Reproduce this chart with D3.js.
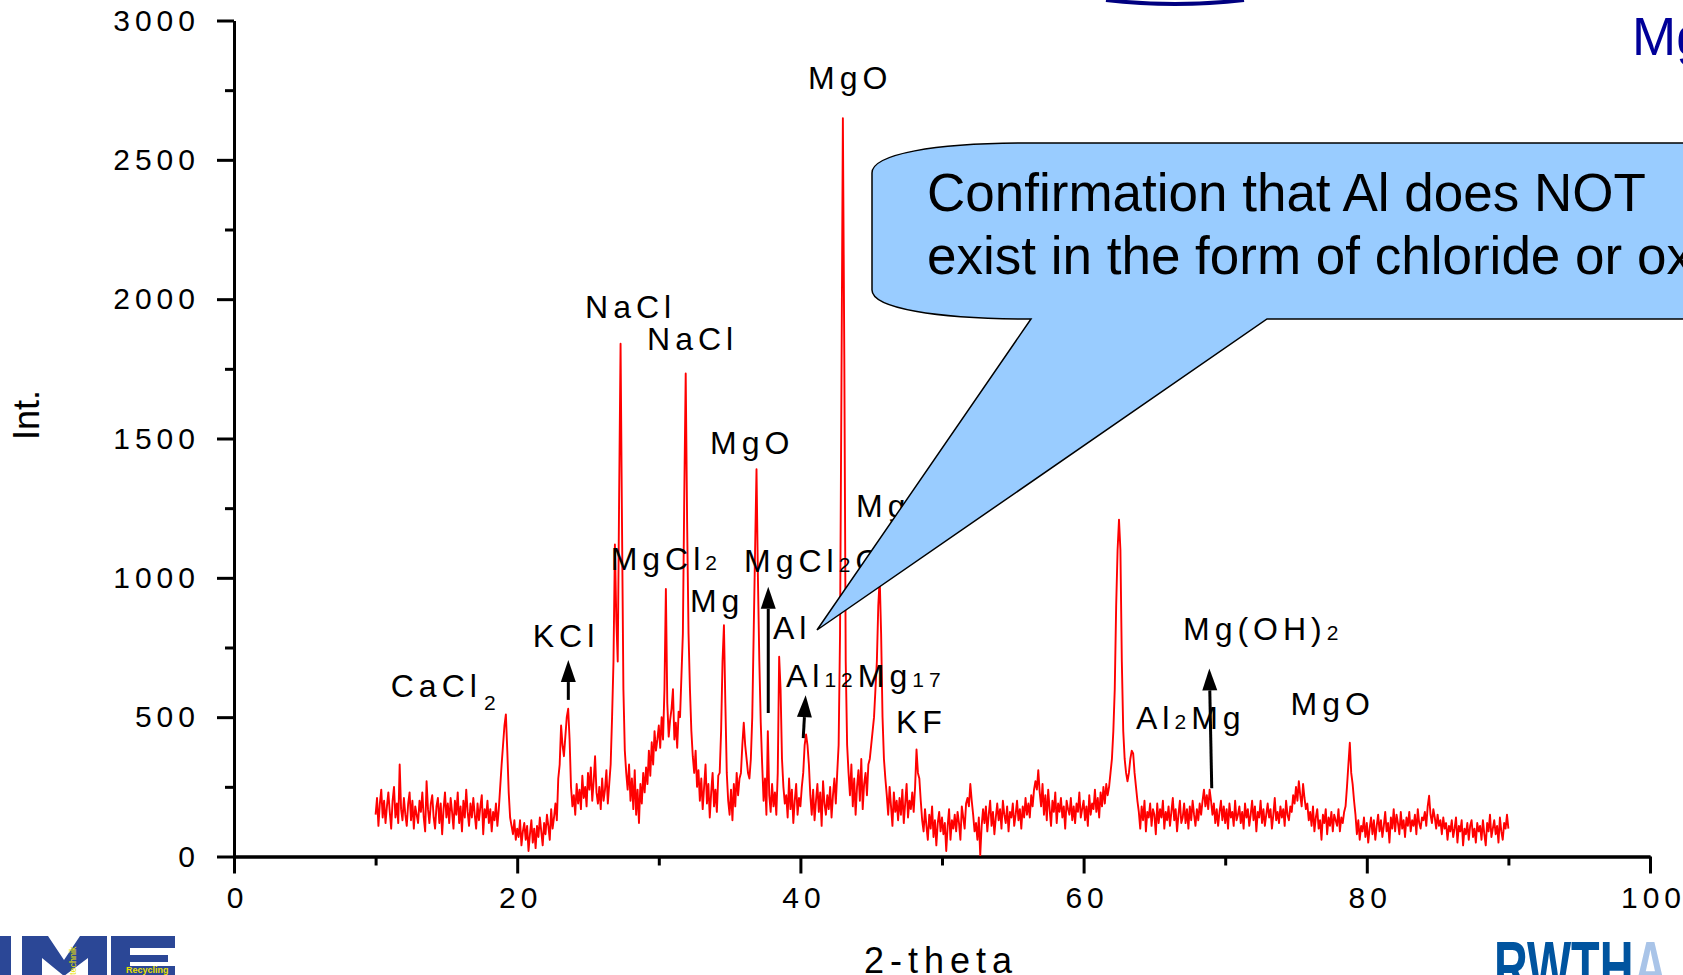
<!DOCTYPE html>
<html>
<head>
<meta charset="utf-8">
<script src="https://cdn.jsdelivr.net/npm/d3@7"></script>
<style>
  body { margin: 0; background: #fff; overflow: hidden; }
  svg { display: block; font-family: "Liberation Sans", Arial, sans-serif; }
</style>
</head>
<body>
<div id="viz"></div>
<script>
const w = 1683;
const h = 975;

// XRD scan, 2-theta 10..90 in 0.1 steps, one row per degree
const thetaStart = 10;
const thetaStep = 0.1;
const intensityRows = [
  [150,210,110,190,240,140,200,120,180,230], // 10
  [160,100,200,250,140,190,120,330,170,130],
  [210,150,110,190,230,130,200,100,180,150],
  [120,200,160,230,140,90,270,170,120,190],
  [220,140,100,180,210,120,190,80,170,230],
  [140,190,120,210,160,100,200,150,230,120], // 15
  [180,90,200,140,240,160,110,190,140,210],
  [150,100,190,130,180,220,80,170,140,200],
  [120,170,90,160,130,190,110,170,250,330],
  [400,470,510,380,230,140,110,80,130,60],
  [100,70,130,40,90,120,60,110,20,80],        // 20
  [130,50,100,30,110,70,140,90,40,120],
  [80,150,110,60,170,100,140,190,130,280],
  [330,470,400,360,430,500,530,420,250,180],
  [220,150,260,190,240,170,290,210,250,180],
  [300,240,320,200,270,360,230,190,250,170],  // 25
  [280,200,240,310,190,260,330,500,700,1120],
  [850,700,1300,1840,1200,600,380,300,240,330],
  [200,280,170,310,150,240,120,260,190,300],
  [230,320,260,380,290,410,330,450,380,420],
  [470,390,500,420,600,960,550,430,490,530],  // 30
  [600,420,480,390,520,500,650,800,1300,1733],
  [1200,800,600,450,360,300,380,250,310,200],
  [280,170,250,330,190,260,140,230,300,180],
  [240,160,290,300,450,700,830,550,300,200],
  [150,240,130,260,180,300,220,280,300,400],  // 35
  [480,400,350,300,280,350,500,800,1100,1390],
  [1000,700,480,330,200,280,150,450,220,160],
  [260,180,230,150,300,717,600,350,250,190],
  [220,140,280,170,240,120,200,260,150,210],
  [180,250,300,400,438,400,330,220,150,240],  // 40
  [130,200,260,160,230,110,270,190,150,220],
  [170,250,140,220,280,190,300,400,800,1700],
  [2649,1800,700,400,300,220,330,180,280,150],
  [250,310,200,350,170,260,300,220,330,350],
  [400,450,500,600,700,900,1000,800,500,350], // 45
  [280,220,150,250,180,110,230,160,200,130],
  [210,150,240,120,190,260,140,200,170,230],
  [160,250,384,300,280,200,130,90,170,110],
  [60,150,100,180,70,130,40,120,160,90],
  [140,80,120,20,110,170,60,130,100,150],     // 50
  [90,160,120,60,180,140,100,190,210,180],
  [260,200,150,90,120,60,140,5,110,170],
  [120,180,90,150,200,110,160,80,140,190],
  [130,170,100,200,150,120,180,90,160,140],
  [190,110,150,200,130,170,100,180,140,210],  // 55
  [150,190,140,220,180,240,270,240,310,230],
  [180,260,150,220,130,240,170,110,200,160],
  [230,120,190,160,210,140,180,100,200,170],
  [150,210,130,180,120,190,160,230,140,170],
  [200,130,180,110,220,150,190,170,240,160],  // 60
  [210,140,230,180,250,190,260,220,250,300],
  [350,450,600,900,1100,1209,1100,700,450,350],
  [300,270,300,350,380,370,300,250,200,160],
  [100,180,130,200,90,160,140,190,110,170],
  [150,80,190,120,170,140,200,100,160,130],   // 65
  [180,110,160,210,130,170,90,150,200,120],
  [140,190,120,170,100,180,130,200,150,110],
  [170,130,190,150,200,240,180,220,170,240],
  [200,150,190,120,170,110,160,200,130,180],
  [120,170,100,190,140,160,110,200,130,150],  // 70
  [180,120,160,100,190,140,170,110,150,200],
  [130,180,90,160,140,200,120,170,110,150],
  [190,140,170,100,150,210,130,160,120,180],
  [140,170,110,200,150,130,180,160,220,190],
  [250,200,270,220,180,260,210,170,190,130],  // 75
  [160,110,180,90,140,170,100,130,60,150],
  [120,170,80,140,110,160,90,150,130,110],
  [170,90,140,120,160,180,250,330,408,300],
  [260,200,150,80,130,60,110,90,140,70],
  [120,50,100,140,80,130,60,110,150,90],      // 80
  [130,70,110,160,90,120,50,140,100,170],
  [90,150,120,80,160,100,130,70,140,110],
  [160,90,130,110,150,80,170,120,100,140],
  [130,160,110,180,218,150,120,170,140,100],
  [150,110,130,80,140,100,120,60,110,90],     // 85
  [130,70,100,140,50,110,90,130,40,100],
  [80,120,60,110,130,70,100,50,120,90],
  [110,60,130,80,40,120,90,150,70,100],
  [130,80,110,50,140,90,60,120,100,150],
  [100]                                       // 90
];

const xMajor = [0, 20, 40, 60, 80, 100];
const xMinor = [10, 30, 50, 70, 90];
const yMajor = [0, 500, 1000, 1500, 2000, 2500, 3000];
const yMinor = [250, 750, 1250, 1750, 2250, 2750];

// phase labels: text pieces alternate normal / small, placed at (2-theta, Int.)
const peakLabels = [
  { parts: ['MgO'], t: 40.54, i: 2754 },
  { parts: ['NaCl'], t: 24.79, i: 1932 },
  { parts: ['NaCl'], t: 29.17, i: 1817 },
  { parts: ['MgO'], t: 33.62, i: 1444 },
  { parts: ['Mg'], t: 43.93, i: 1218 },
  { parts: ['MgCl', '2'], t: 26.6, i: 1028 },
  { parts: ['MgCl', '2', 'O'], t: 36.02, i: 1022 },
  { parts: ['Mg'], t: 32.2, i: 878 },
  { parts: ['Al'], t: 38.06, i: 780 },
  { parts: ['Al', '12', 'Mg', '17'], t: 38.98, i: 608 },
  { parts: ['KF'], t: 46.75, i: 444 },
  { parts: ['KCl'], t: 21.1, i: 751 },
  { parts: ['CaCl', '2'], t: 11.07, i: 571, lowered: true },
  { parts: ['Mg(OH)', '2'], t: 67.02, i: 777 },
  { parts: ['MgO'], t: 74.62, i: 508 },
  { parts: ['Al', '2', 'Mg'], t: 63.7, i: 456 }
];

// arrows: from (t0,i0) to tip (t1,i1)
const arrows = [
  { t0: 23.61, i0: 562, t1: 23.61, i1: 705 },
  { t0: 37.73, i0: 515, t1: 37.73, i1: 968 },
  { t0: 40.2, i0: 425, t1: 40.37, i1: 579 },
  { t0: 69.05, i0: 245, t1: 68.88, i1: 675 }
];

const calloutLines = ['Confirmation that Al does NOT', 'exist in the form of chloride or oxide'];

const data = intensityRows.flat().map((v, k) => [thetaStart + k * thetaStep, v]);

const svg = d3.select('#viz').append('svg')
    .attr('width', w)
    .attr('height', h)

const x = d3.scaleLinear().domain([0, 100]).range([234, 1650])
const y = d3.scaleLinear().domain([0, 3000]).range([856.5, 20.5])

// axes
const axisStyle = g => {
    g.selectAll('path, line').attr('stroke', '#000').attr('stroke-width', 3)
    g.selectAll('text')
        .attr('font-size', 30)
        .attr('letter-spacing', 5)
        .attr('fill', '#000')
        .attr('font-family', '"Liberation Sans", Arial, sans-serif')
}

svg.append('g')
    .attr('transform', `translate(0,${y(0)})`)
    .call(d3.axisBottom(x).tickValues(xMinor).tickSize(9).tickFormat('').tickSizeOuter(0))
    .call(axisStyle)
svg.append('g')
    .attr('transform', `translate(0,${y(0)})`)
    .call(d3.axisBottom(x).tickValues(xMajor).tickSize(17).tickPadding(13).tickSizeOuter(0).tickFormat(d3.format('d')))
    .call(axisStyle)
    .selectAll('text').attr('dx', 3)

svg.append('g')
    .attr('transform', `translate(${x(0)},0)`)
    .call(d3.axisLeft(y).tickValues(yMinor).tickSize(9).tickFormat('').tickSizeOuter(0))
    .call(axisStyle)
svg.append('g')
    .attr('transform', `translate(${x(0)},0)`)
    .call(d3.axisLeft(y).tickValues(yMajor).tickSize(17).tickPadding(17).tickSizeOuter(0).tickFormat(d3.format('d')))
    .call(axisStyle)

// axis titles
svg.append('text')
    .attr('transform', `translate(39,${415}) rotate(-90)`)
    .attr('text-anchor', 'middle')
    .attr('font-size', 36)
    .text('Int.')

svg.append('text')
    .attr('x', 941)
    .attr('y', 973)
    .attr('text-anchor', 'middle')
    .attr('font-size', 36)
    .attr('letter-spacing', 6)
    .text('2-theta')

// the scan
svg.append('path')
    .datum(data)
    .attr('fill', 'none')
    .attr('stroke', '#ff0000')
    .attr('stroke-width', 1.9)
    .attr('stroke-linejoin', 'round')
    .attr('d', d3.line().x(d => x(d[0])).y(d => y(d[1])))

// labels
const labelGroup = svg.append('g')
    .attr('font-size', 32)
    .attr('letter-spacing', 5)
    .attr('fill', '#000')

peakLabels.forEach(lb => {
    let t = labelGroup.append('text')
        .attr('x', x(lb.t))
        .attr('y', y(lb.i))
    lb.parts.forEach((p, k) => {
        let small = k % 2 === 1
        let s = t.append('tspan').text(p)
        if (small) {
            s.attr('font-size', 21)
            if (lb.lowered) s.attr('dy', 13).attr('dx', 2)
        }
    })
})

// arrows
arrows.forEach(a => {
    let x0 = x(a.t0), y0 = y(a.i0), x1 = x(a.t1), y1 = y(a.i1)
    let ang = Math.atan2(y1 - y0, x1 - x0)
    let len = 22, half = 7.5
    let bx = x1 - len * Math.cos(ang), by = y1 - len * Math.sin(ang)
    svg.append('line')
        .attr('x1', x0).attr('y1', y0)
        .attr('x2', bx).attr('y2', by)
        .attr('stroke', '#000')
        .attr('stroke-width', 3)
    svg.append('path')
        .attr('d', `M${x1},${y1}L${bx + half * Math.sin(ang)},${by - half * Math.cos(ang)}L${bx - half * Math.sin(ang)},${by + half * Math.cos(ang)}Z`)
        .attr('fill', '#000')
})

// speech bubble
svg.append('path')
    .attr('d', 'M872,173 C872,154 935,143 1025,143 L1700,143 L1700,319 L1267,319 L817,630 L1031,319 C935,319 872,308 872,290 Z')
    .attr('fill', '#99ccff')
    .attr('stroke', '#000')
    .attr('stroke-width', 1.5)

svg.append('g')
    .attr('font-size', 53)
    .attr('fill', '#000')
    .selectAll('text')
    .data(calloutLines)
    .join('text')
    .attr('x', 927)
    .attr('y', (d, k) => 211 + k * 63)
    .text(d => d)

// slide decorations (title, logos) cut by the crop
svg.append('path')
    .attr('d', 'M1106,0 Q1175,8 1244,0')
    .attr('fill', 'none')
    .attr('stroke', '#000080')
    .attr('stroke-width', 4)

svg.append('text')
    .attr('x', 1632)
    .attr('y', 55)
    .attr('font-size', 53)
    .attr('fill', '#000099')
    .text('Mg')

const logo = svg.append('g').attr('fill', '#2b4796')
logo.append('rect').attr('x', 0).attr('y', 936).attr('width', 11).attr('height', 40)
logo.append('path').attr('d', 'M22,936 L48,936 L64,960 L80,936 L107,936 L107,976 L88,976 L88,958 L64,976 L42,958 L42,976 L22,976 Z')
logo.append('path').attr('d', 'M111,936 L175,936 L175,948 L130,948 L130,955 L168,955 L168,962 L130,962 L130,966 L175,966 L175,976 L111,976 Z')
svg.append('text')
    .attr('transform', 'translate(76,975) rotate(-90)')
    .attr('font-size', 9)
    .attr('fill', '#e8e000')
    .text('technik')
svg.append('text')
    .attr('x', 126)
    .attr('y', 973)
    .attr('font-size', 9)
    .attr('font-weight', 'bold')
    .attr('fill', '#e8e000')
    .text('Recycling')

const rwth = svg.append('text')
    .attr('transform', 'translate(1494,992) scale(0.65,1)')
    .attr('font-size', 72)
    .attr('font-weight', 'bold')
rwth.append('tspan').attr('fill', '#00549f').text('RWTH')
rwth.append('tspan').attr('fill', '#a9c4e8').text('A')
</script>
</body>
</html>
